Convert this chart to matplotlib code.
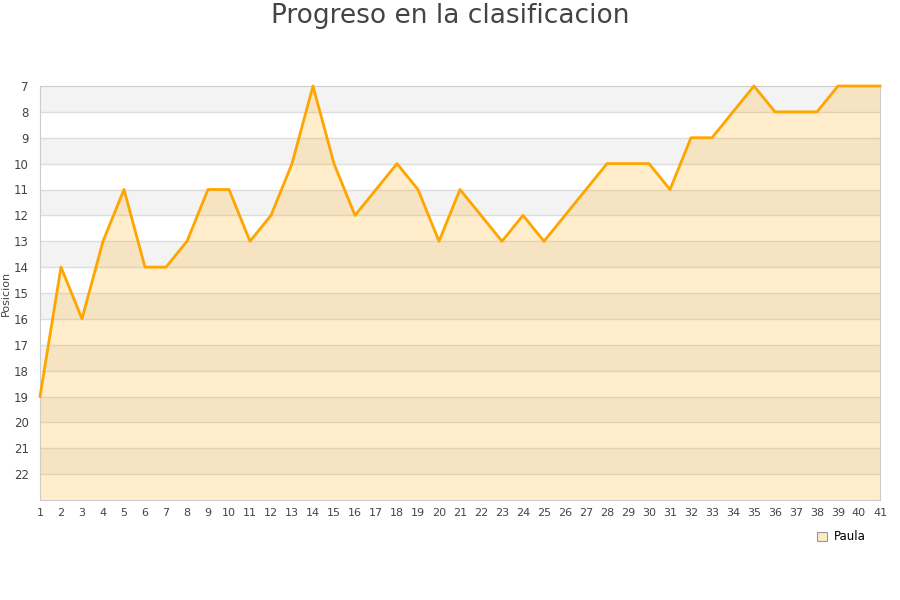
import matplotlib
matplotlib.use("Agg")
import matplotlib.pyplot as plt
from matplotlib.patches import Patch

# jornada vs posicion
jornadas = list(range(1, 42))
posicion = [19, 14, 16, 13, 11, 14, 14, 13, 11, 11,
            13, 12, 10, 7, 10, 12, 11, 10, 11, 13,
            11, 12, 13, 12, 13, 12, 11, 10, 10, 10,
            11, 9, 9, 8, 7, 8, 8, 8, 7, 7, 7]
y_ticks = list(range(7, 23))
y_top, y_bottom = 7, 23

fig = plt.figure(figsize=(9, 6), dpi=100)
ax = fig.add_axes([40 / 900, 100 / 600, 840 / 900, 414 / 600])

# alternating horizontal bands
for i, y in enumerate(range(y_top, y_bottom)):
    if i % 2 == 0:
        ax.axhspan(y, y + 1, color="#f3f3f3", zorder=0, lw=0)
for y in range(y_top + 1, y_bottom):
    ax.axhline(y, color="#dddddd", lw=1, zorder=1)

ax.fill_between(jornadas, posicion, y_bottom, color="#ffa500", alpha=0.2,
                lw=0, zorder=2)
ax.plot(jornadas, posicion, color="#ffa500", lw=2, zorder=3, clip_on=False)

ax.set_xlim(1, 41)
ax.set_ylim(y_bottom, y_top)
ax.set_xticks(jornadas)
ax.set_yticks(y_ticks)
ax.tick_params(axis="y", length=0, labelsize=8.5, colors="#444444", pad=8)
ax.tick_params(axis="x", length=0, labelsize=8, colors="#444444", pad=6)
for s in ax.spines.values():
    s.set_color("#cccccc")
ax.set_ylabel("Posicion", fontsize=8, color="#444444", labelpad=2)

fig.suptitle("Progreso en la clasificacion", y=0.995, fontsize=19,
             color="#444444")

handle = Patch(facecolor="#fde9c6", edgecolor="#999999", lw=0.8)
fig.legend([handle], ["Paula"], loc="center",
           bbox_to_anchor=(0.935, 0.105), frameon=False, fontsize=8.5,
           handlelength=0.8, handleheight=0.8, handletextpad=0.6)

fig.savefig("out.png", dpi=100)
